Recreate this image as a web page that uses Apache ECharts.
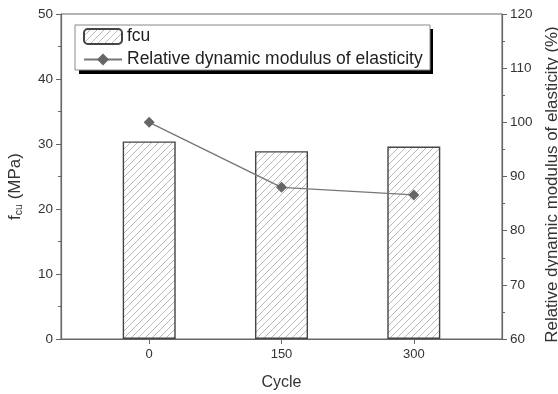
<!DOCTYPE html>
<html>
<head>
<meta charset="utf-8">
<script src="https://cdn.jsdelivr.net/npm/echarts@6/dist/echarts.min.js"></script>
<style>
html,body{margin:0;padding:0;background:#fff;}
#chart{width:558px;height:394px;}
</style>
</head>
<body>
<div id="chart"></div>
<script>
// Freeze–thaw cycles and measured properties
var cycles = [0, 150, 300];
var fcu = [30.4, 28.9, 29.6];          // compressive strength, MPa
var modulus = [100, 88, 86.6];         // relative dynamic modulus, %
var cycleTicks = [0, 150, 300];

// Diagonal hatch fill for the bars
function hatch() {
  var s = 7, c = document.createElement('canvas');
  c.width = s; c.height = s;
  var g = c.getContext('2d');
  g.fillStyle = '#fff'; g.fillRect(0, 0, s, s);
  g.strokeStyle = '#b8b8b8'; g.lineWidth = 1;
  g.beginPath();
  g.moveTo(-1, s + 1); g.lineTo(s + 1, -1);
  g.moveTo(-1, 1); g.lineTo(1, -1);
  g.moveTo(s - 1, s + 1); g.lineTo(s + 1, s - 1);
  g.stroke();
  return c;
}
var pattern = {image: hatch(), repeat: 'repeat'};

var font = 'Liberation Sans, Arial, sans-serif';
var axisColor = '#666';
var textColor = '#333';

var chart = echarts.init(document.getElementById('chart'), null, {renderer: 'canvas'});
chart.setOption({
  animation: false,
  textStyle: {fontFamily: font},
  grid: {left: 61, right: 56, top: 14, bottom: 55, outerBoundsMode: 'none', containLabel: false,
         show: true, borderColor: axisColor, borderWidth: 1},
  // drop shadow behind the legend box
  graphic: [{
    type: 'rect', left: 79, top: 29, z: 3,
    shape: {width: 354, height: 45},
    style: {fill: '#000'}
  }],
  legend: {
    orient: 'vertical', left: 75, top: 25, z: 5,
    backgroundColor: '#fff', borderColor: '#888', borderWidth: 1,
    padding: [2, 3, 1, 8], itemGap: 4, itemWidth: 38, itemHeight: 15,
    textStyle: {fontSize: 17.5, lineHeight: 19, width: 300, overflow: 'none', color: '#222', fontFamily: font},
    data: [
      {name: 'fcu'},
      {name: 'Relative dynamic modulus of elasticity'}
    ]
  },
  xAxis: {
    type: 'value', min: -100, max: 400, interval: 50,
    name: 'Cycle', nameLocation: 'middle', nameGap: 36,
    nameTextStyle: {fontSize: 16, color: textColor},
    axisLine: {lineStyle: {color: axisColor, width: 1.2}},
    axisTick: {show: true, length: 5, customValues: cycleTicks, lineStyle: {color: axisColor}},
    axisLabel: {customValues: cycleTicks, fontSize: 13, color: textColor, margin: 9},
    splitLine: {show: false}
  },
  yAxis: [
    {
      type: 'value', min: 0, max: 50, interval: 10,
      name: '{a|f}{b|cu}{a| (MPa)}', nameLocation: 'middle', nameGap: 36, nameRotate: 90,
      nameTextStyle: {padding: [0, 20, 0, 0], rich: {
        a: {fontSize: 17, color: textColor, fontFamily: font},
        b: {fontSize: 10.5, color: textColor, fontFamily: font, padding: [8, 0, 0, 0]}
      }},
      axisLine: {show: true, onZero: false, lineStyle: {color: axisColor, width: 1.2}},
      axisTick: {show: true, length: 5, lineStyle: {color: axisColor}},
      minorTick: {show: true, splitNumber: 2, length: 3, lineStyle: {color: axisColor}},
      axisLabel: {fontSize: 13.5, color: textColor, margin: 8},
      splitLine: {show: false}
    },
    {
      type: 'value', min: 60, max: 120, interval: 10, position: 'right',
      name: 'Relative dynamic modulus of elasticity (%)', nameLocation: 'middle', nameGap: 39, nameRotate: 90,
      nameTextStyle: {fontSize: 16.9, color: textColor, padding: [0, 16, 0, 0]},
      axisLine: {show: true, onZero: false, lineStyle: {color: axisColor, width: 1.2}},
      axisTick: {show: true, length: 5, lineStyle: {color: axisColor}},
      minorTick: {show: true, splitNumber: 2, length: 3, lineStyle: {color: axisColor}},
      axisLabel: {fontSize: 13.5, color: textColor, margin: 8},
      splitLine: {show: false}
    }
  ],
  series: [
    {
      name: 'fcu', type: 'bar', yAxisIndex: 0, barWidth: 53,
      data: cycles.map(function (c, i) { return [c, fcu[i]]; }),
      itemStyle: {color: pattern, borderColor: '#444', borderWidth: 1.4}
    },
    {
      name: 'Relative dynamic modulus of elasticity', type: 'line', yAxisIndex: 1,
      data: cycles.map(function (c, i) { return [c, modulus[i]]; }),
      symbol: 'diamond', symbolSize: 11,
      lineStyle: {color: '#777', width: 1.4},
      itemStyle: {color: '#666'}
    }
  ]
});
</script>
</body>
</html>
